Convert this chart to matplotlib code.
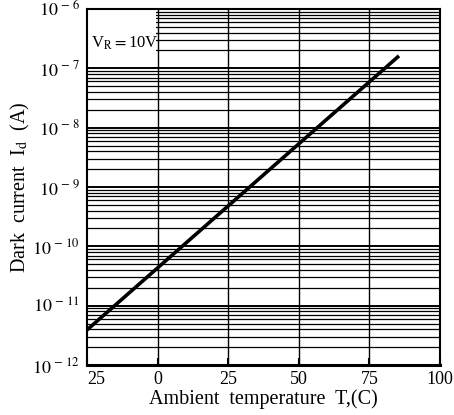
import matplotlib
matplotlib.use("Agg")
import matplotlib.pyplot as plt
import numpy as np
from matplotlib.patches import Rectangle

# Data
temps = [-25, 85]
dark_current = [3.9e-12, 1.55e-7]
x_ticks = [-25, 0, 25, 50, 75, 100]
x_tick_labels = ["25", "0", "25", "50", "75", "100"]
y_decades = [-12, -11, -10, -9, -8, -7, -6]

plt.rcParams['font.family'] = ['Liberation Serif', 'DejaVu Serif']
plt.rcParams['mathtext.fontset'] = 'stix'

fig = plt.figure(figsize=(4.54, 4.15), dpi=100)
ax = fig.add_axes([87/454, 1-365/415, (440-87)/454, (365-9)/415])
ax.set_yscale('log')
ax.set_xlim(-25, 100)
ax.set_ylim(1e-12, 1e-6)

# grid
minor = []
for d in y_decades[:-1]:
    for m in range(2, 10):
        minor.append(m * 10.0**d)
for v in minor:
    ax.axhline(v, color='black', lw=0.9, zorder=1)
for d in y_decades:
    ax.axhline(10.0**d, color='black', lw=1.4, zorder=1)
for xv in [0, 25, 50, 75]:
    ax.axvline(xv, color='black', lw=1.0, zorder=2.5)

# label box
ax.add_patch(Rectangle((0, 5/6 + 0.004), (156-87)/(440-87), 1/6, transform=ax.transAxes,
                       facecolor='white', edgecolor='none', zorder=2))
ax.text(0.012, 0.905, r"V$_{\mathrm{R}}$$=$10V", transform=ax.transAxes,
        fontsize=12, va='center', ha='left', zorder=3)

ax.plot(temps, dark_current, color='black', lw=2.6, zorder=4)

ax.set_xticks(x_ticks)
ax.set_xticklabels(x_tick_labels)
ax.get_xticklabels()[0].set_horizontalalignment('left')
ax.set_yticks([10.0**d for d in y_decades])
ax.set_yticklabels([r"$10^{\,-\,%d}$" % (-d) for d in y_decades])
ax.yaxis.set_minor_locator(matplotlib.ticker.NullLocator())
ax.tick_params(axis='both', direction='in', length=5, width=1.5, labelsize=13)
ax.tick_params(axis='y', length=0, pad=5)
ax.tick_params(axis='x', pad=4)

for s in ax.spines.values():
    s.set_linewidth(1.5)
ax.spines['bottom'].set_linewidth(2.2)

ax.set_xlabel("Ambient  temperature  T,(C)", fontsize=14.5, labelpad=1)
ax.set_ylabel(r"Dark  current  I$_{\mathrm{d}}$  (A)", fontsize=14.5, labelpad=0)

fig.savefig("out.png", dpi=100)
